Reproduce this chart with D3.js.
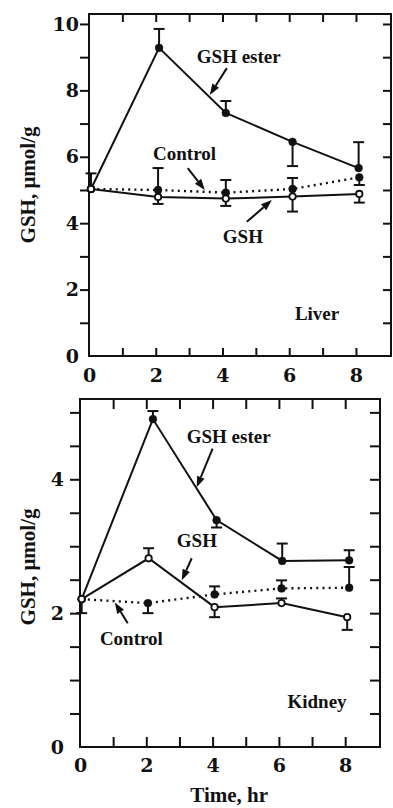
<!DOCTYPE html>
<html>
<head>
<meta charset="utf-8">
<script src="https://cdn.jsdelivr.net/npm/d3@7/dist/d3.min.js"></script>
<style>
  html, body { margin: 0; padding: 0; background: #fff; }
  svg { display: block; }
  text { font-family: "Liberation Serif", "Times New Roman", serif; font-weight: bold; fill: #111; }
</style>
</head>
<body>
<svg id="chart" width="393" height="808"></svg>
<script>
// ---------- Data ----------
// Liver
const liverEsterT   = [0.06, 2.1, 4.1, 6.1, 8.08];
const liverEster    = [5.03, 9.28, 7.32, 6.45, 5.66];
const liverEsterErr = [5.5, 9.85, 7.68, 5.72, 6.44];

const liverCtrlT    = [0.06, 2.07, 4.1, 6.1, 8.1];
const liverCtrl     = [5.03, 5.0, 4.92, 5.03, 5.38];
const liverCtrlErr  = [null, 5.66, 5.3, 5.36, 5.15];

const liverGshT     = [0.06, 2.07, 4.1, 6.1, 8.1];
const liverGsh      = [5.03, 4.79, 4.74, 4.8, 4.88];
const liverGshErr   = [null, 4.58, 4.52, 4.35, 4.62];

// Kidney
const kidEsterT     = [0.05, 2.2, 4.12, 6.1, 8.12];
const kidEster      = [2.21, 4.9, 3.39, 2.78, 2.79];
const kidEsterErr   = [null, 5.02, 3.28, 3.04, 2.94];

const kidGshT       = [0.05, 2.07, 4.06, 6.08, 8.06];
const kidGsh        = [2.21, 2.82, 2.09, 2.15, 1.94];
const kidGshErr     = [null, 2.97, 1.94, 2.22, 1.75];

const kidCtrlT      = [0.05, 2.05, 4.06, 6.08, 8.12];
const kidCtrl       = [2.21, 2.15, 2.28, 2.37, 2.38];
const kidCtrlErr    = [2.0, 2.0, 2.4, 2.49, 2.69];

// Ticks
const xTicks       = [1, 2, 3, 4, 5, 6, 7, 8];
const xTickLabels  = [0, 2, 4, 6, 8];
const liverYTicks  = [1, 2, 3, 4, 5, 6, 7, 8, 9, 10];
const liverYLabels = [0, 2, 4, 6, 8, 10];
const kidYTicks    = [0.5, 1, 1.5, 2, 2.5, 3, 3.5, 4, 4.5, 5];
const kidYLabels   = [0, 2, 4];

const yTitle = "GSH, \u03bcmol/g";
const xTitle = "Time, hr";

// Annotations (data coordinates)
const liverNotes = [
  { text: "GSH ester", tx: 3.23, ty: 8.83, from: [4.13, 8.67], to: [3.62, 7.86] },
  { text: "Control",   tx: 1.92, ty: 5.9,  from: [2.96, 5.66], to: [3.47, 5.0] },
  { text: "GSH",       tx: 4.01, ty: 3.4,  from: [4.73, 4.04], to: [5.48, 4.7] },
  { text: "Liver",     tx: 6.17, ty: 1.08 }
];
const kidNotes = [
  { text: "GSH ester", tx: 3.22, ty: 4.54, from: [4.0, 4.46],  to: [3.52, 3.88] },
  { text: "GSH",       tx: 2.92, ty: 2.99, from: [3.37, 2.82], to: [3.07, 2.49] },
  { text: "Control",   tx: 0.6,  ty: 1.52, from: [1.44, 1.85], to: [1.05, 2.16] },
  { text: "Kidney",    tx: 6.26, ty: 0.58 }
];

// ---------- Drawing ----------
const svg = d3.select("#chart");

function zip(t, v, e) { return t.map((d, i) => ({ t: d, v: v[i], e: e[i] })); }

function panel(cfg) {
  const x = d3.scaleLinear().domain([0, 9.05]).range([cfg.left, cfg.right]);
  const y = d3.scaleLinear().domain([0, cfg.ymax]).range([cfg.bottom, cfg.top]);
  const g = svg.append("g");

  // frame
  g.append("rect")
    .attr("x", cfg.left).attr("y", cfg.top)
    .attr("width", cfg.right - cfg.left).attr("height", cfg.bottom - cfg.top)
    .attr("fill", "none").attr("stroke", "#111").attr("stroke-width", 2);

  const tickStyle = sel => {
    sel.select(".domain").remove();
    sel.selectAll(".tick line").attr("stroke", "#111").attr("stroke-width", 2);
  };

  // left ticks (outward)
  g.append("g").attr("transform", `translate(${cfg.left},0)`)
    .call(d3.axisLeft(y).tickValues(cfg.yTicks).tickSize(cfg.ltick).tickFormat(""))
    .call(tickStyle);
  // right ticks (inward)
  g.append("g").attr("transform", `translate(${cfg.right},0)`)
    .call(d3.axisRight(y).tickValues(cfg.yTicks).tickSize(-cfg.itick).tickFormat(""))
    .call(tickStyle);
  // bottom ticks (inward)
  g.append("g").attr("transform", `translate(0,${cfg.bottom})`)
    .call(d3.axisBottom(x).tickValues(xTicks).tickSize(-cfg.itick).tickFormat(""))
    .call(tickStyle);
  // top ticks (inward)
  g.append("g").attr("transform", `translate(0,${cfg.top})`)
    .call(d3.axisTop(x).tickValues(xTicks).tickSize(-cfg.itick).tickFormat(""))
    .call(tickStyle);

  const labelStyle = sel => {
    sel.select(".domain").remove();
    sel.selectAll(".tick line").remove();
    sel.selectAll("text").style("font-family", "'DejaVu Serif', serif")
      .style("font-weight", "bold").style("font-size", "19px").attr("fill", "#111");
  };
  // y labels
  g.append("g").attr("transform", `translate(${cfg.left},0)`)
    .call(d3.axisLeft(y).tickValues(cfg.yLabels).tickSize(0).tickPadding(cfg.ypad).tickFormat(d3.format("d")))
    .call(labelStyle);
  // x labels
  g.append("g").attr("transform", `translate(0,${cfg.bottom})`)
    .call(d3.axisBottom(x).tickValues(xTickLabels).tickSize(0).tickPadding(cfg.xpad).tickFormat(d3.format("d")))
    .call(labelStyle);

  // y title
  g.append("text")
    .attr("transform", `translate(${cfg.titleX},${(cfg.top + cfg.bottom) / 2 + cfg.titleDy}) rotate(-90)`)
    .attr("text-anchor", "middle")
    .style("font-size", "21px")
    .text(yTitle);

  const line = d3.line().x(d => x(d.t)).y(d => y(d.v));

  cfg.series.forEach(s => {
    const data = zip(s.t, s.v, s.e);
    g.append("path").datum(data)
      .attr("d", line)
      .attr("fill", "none").attr("stroke", "#111")
      .attr("stroke-width", s.dotted ? 2.4 : 2)
      .attr("stroke-dasharray", s.dotted ? "2 4.2" : null);
    // error bars
    const eb = g.append("g");
    data.filter(d => d.e != null).forEach(d => {
      eb.append("line").attr("x1", x(d.t)).attr("x2", x(d.t))
        .attr("y1", y(d.v)).attr("y2", y(d.e))
        .attr("stroke", "#111").attr("stroke-width", 2);
      eb.append("line").attr("x1", x(d.t) - 5.5).attr("x2", x(d.t) + 5.5)
        .attr("y1", y(d.e)).attr("y2", y(d.e))
        .attr("stroke", "#111").attr("stroke-width", 2);
    });
    g.selectAll(null).data(data).enter().append("circle")
      .attr("cx", d => x(d.t)).attr("cy", d => y(d.v))
      .attr("r", s.open ? 3.2 : 3.9)
      .attr("fill", s.open ? "#fff" : "#111")
      .attr("stroke", "#111").attr("stroke-width", s.open ? 1.8 : 0.5);
  });

  // annotations
  cfg.notes.forEach(n => {
    g.append("text").attr("x", x(n.tx)).attr("y", y(n.ty))
      .style("font-size", "19px").text(n.text);
    if (n.from) {
      const x1 = x(n.from[0]), y1 = y(n.from[1]), x2 = x(n.to[0]), y2 = y(n.to[1]);
      const ang = Math.atan2(y2 - y1, x2 - x1);
      const L = 11, W = 4;
      const bx = x2 - L * Math.cos(ang), by = y2 - L * Math.sin(ang);
      g.append("line").attr("x1", x1).attr("y1", y1).attr("x2", bx).attr("y2", by)
        .attr("stroke", "#111").attr("stroke-width", 2);
      const px = -Math.sin(ang) * W, py = Math.cos(ang) * W;
      g.append("path")
        .attr("d", `M${x2},${y2}L${bx + px},${by + py}L${bx - px},${by - py}Z`)
        .attr("fill", "#111");
    }
  });

  return { x, y };
}

panel({
  left: 89, right: 391, top: 14, bottom: 356, ymax: 10.3,
  yTicks: liverYTicks, yLabels: liverYLabels, ltick: 9, itick: 8,
  ypad: 10, xpad: 13, titleX: 35, titleDy: 0,
  series: [
    { t: liverEsterT, v: liverEster, e: liverEsterErr, open: false, dotted: false },
    { t: liverCtrlT,  v: liverCtrl,  e: liverCtrlErr,  open: false, dotted: true },
    { t: liverGshT,   v: liverGsh,   e: liverGshErr,   open: true,  dotted: false }
  ],
  notes: liverNotes
});

const kid = panel({
  left: 80, right: 380, top: 399, bottom: 747, ymax: 5.2,
  yTicks: kidYTicks, yLabels: kidYLabels, ltick: 10, itick: 10,
  ypad: 16, xpad: 12, titleX: 35, titleDy: -6,
  series: [
    { t: kidEsterT, v: kidEster, e: kidEsterErr, open: false, dotted: false },
    { t: kidCtrlT,  v: kidCtrl,  e: kidCtrlErr,  open: false, dotted: true },
    { t: kidGshT,   v: kidGsh,   e: kidGshErr,   open: true,  dotted: false }
  ],
  notes: kidNotes
});

svg.append("text")
  .attr("x", kid.x(4.5)).attr("y", 802)
  .attr("text-anchor", "middle")
  .style("font-size", "21px")
  .text(xTitle);
</script>
</body>
</html>
